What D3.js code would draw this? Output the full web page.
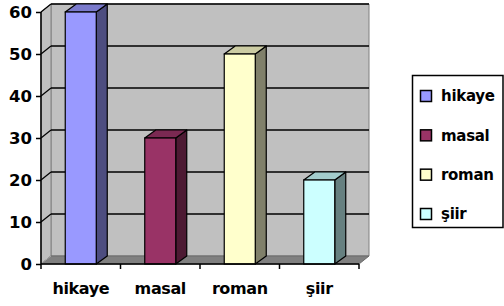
<!DOCTYPE html>
<html><head><meta charset="utf-8">
<script src="https://cdn.jsdelivr.net/npm/d3@7"></script>
<style>body{margin:0;background:#fff}svg{display:block}text{font-family:"DejaVu Sans",sans-serif;font-weight:bold;fill:#000}</style>
</head><body>
<svg id="c" width="504" height="306"></svg>
<script>
const categories = ["hikaye", "masal", "roman", "şiir"];
const values = [60, 30, 50, 20];
const yTicks = [0, 10, 20, 30, 40, 50, 60];
const frontColors = ["#9999FF", "#993366", "#FFFFCC", "#CCFFFF"];
const sideColors = ["#4D4D80", "#4D1A33", "#80806A", "#668080"];
const topColors = ["#7A7ACC", "#7A2952", "#CCCCA3", "#A3CCCC"];

const svg = d3.select("#c");
const x = d3.scaleBand().domain(categories).range([41, 359]);
const y = d3.scaleLinear().domain([0, 60]).range([264, 12]);
const dx = 10, dy = -8, bdx = 11, bdy = -8;
const x0 = x.range()[0], x1 = x.range()[1], y0 = y(0), yT = y(60);
const pts = a => a.map(p => p.join(",")).join(" ");

// back wall
svg.append("polygon").attr("points", pts([[x0+dx, yT+dy],[x1+dx, yT+dy],[x1+dx, y0+dy],[x0+dx, y0+dy]]))
  .attr("fill", "#C0C0C0").attr("stroke", "#808080").attr("stroke-width", 1);
// left wall
svg.append("polygon").attr("points", pts([[x0, yT],[x0+dx, yT+dy],[x0+dx, y0+dy],[x0, y0]]))
  .attr("fill", "#C0C0C0").attr("stroke", "#808080").attr("stroke-width", 1);
// floor
svg.append("polygon").attr("points", pts([[x0, y0],[x0+dx, y0+dy],[x1+dx, y0+dy],[x1, y0]]))
  .attr("fill", "#808080").attr("stroke", "#6a6a6a").attr("stroke-width", 1);
svg.append("line").attr("x1", x0+1).attr("y1", y0-1).attr("x2", x0+dx).attr("y2", y0+dy)
  .attr("stroke", "#a8a8a8");

// gridlines
const grid = yTicks.filter(t => t > 0);
svg.selectAll(".gb").data(grid).join("line")
  .attr("x1", x0+dx).attr("x2", x1+dx).attr("y1", d => y(d)+dy).attr("y2", d => y(d)+dy)
  .attr("stroke", "#000").attr("stroke-width", 1.3);
svg.selectAll(".gl").data(grid).join("line")
  .attr("x1", x0).attr("x2", x0+dx).attr("y1", d => y(d)).attr("y2", d => y(d)+dy)
  .attr("stroke", "#000").attr("stroke-width", 1.3);

// bars
const bw = 31;
const g = svg.selectAll(".bar").data(categories).join("g");
g.each(function(c, i) {
  const sel = d3.select(this);
  const bx = x(c) + (x.bandwidth() - bw) / 2;
  const yv = y(values[i]);
  sel.append("polygon").attr("points", pts([[bx+bw, yv],[bx+bw+bdx, yv+bdy],[bx+bw+bdx, y0+bdy],[bx+bw, y0]]))
    .attr("fill", sideColors[i]).attr("stroke", "#000").attr("stroke-width", 1.2).attr("stroke-linejoin", "round");
  sel.append("polygon").attr("points", pts([[bx, yv],[bx+bdx, yv+bdy],[bx+bw+bdx, yv+bdy],[bx+bw, yv]]))
    .attr("fill", topColors[i]).attr("stroke", "#000").attr("stroke-width", 1.2).attr("stroke-linejoin", "round");
  sel.append("rect").attr("x", bx).attr("y", yv).attr("width", bw).attr("height", y0 - yv)
    .attr("fill", frontColors[i]).attr("stroke", "#000").attr("stroke-width", 1.2);
});

// y axis
const ya = svg.append("g").attr("transform", `translate(${x0},0)`)
  .call(d3.axisLeft(y).tickValues(yTicks).tickSize(5).tickPadding(4));
ya.select(".domain").attr("stroke", "#000").attr("stroke-width", 1.5).attr("d", `M0,${yT}V${y0}`);
ya.selectAll(".tick line").attr("stroke", "#000").attr("stroke-width", 1.5);
ya.selectAll("text").style("font-size", "16.5px").style("font-family", "DejaVu Sans").style("font-weight", "bold").attr("dy", "0.36em");

// x axis
const xa = svg.append("g").attr("transform", `translate(0,${y0})`)
  .call(d3.axisBottom(x).tickSize(0).tickPadding(19));
xa.select(".domain").attr("stroke", "#000").attr("stroke-width", 1.5).attr("d", `M${x0},0H${x1}`);
xa.selectAll("text").style("font-size", "16px").style("letter-spacing", "-0.4px").style("font-family", "DejaVu Sans").style("font-weight", "bold");
const bounds = [...categories.map(c => x(c)), x1];
svg.selectAll(".xt").data(bounds).join("line")
  .attr("x1", d => d).attr("x2", d => d).attr("y1", y0).attr("y2", y0 + 5)
  .attr("stroke", "#000").attr("stroke-width", 1.5);

// legend
const lg = svg.append("g");
lg.append("rect").attr("x", 412.5).attr("y", 75.5).attr("width", 90.5).attr("height", 152)
  .attr("fill", "#fff").attr("stroke", "#000").attr("stroke-width", 1.5);
const ly = d3.scalePoint().domain(categories).range([96, 214]);
const li = lg.selectAll(".li").data(categories).join("g")
  .attr("transform", c => `translate(420,${ly(c)})`);
li.append("rect").attr("x", 0.5).attr("y", -5.5).attr("width", 11).attr("height", 11)
  .attr("fill", (c, i) => frontColors[i]).attr("stroke", "#000").attr("stroke-width", 1.5);
li.append("text").attr("x", 21).attr("y", 0).attr("dy", "0.36em").style("font-size", "15px").style("letter-spacing", "-0.3px").text(c => c);
</script>
</body></html>
